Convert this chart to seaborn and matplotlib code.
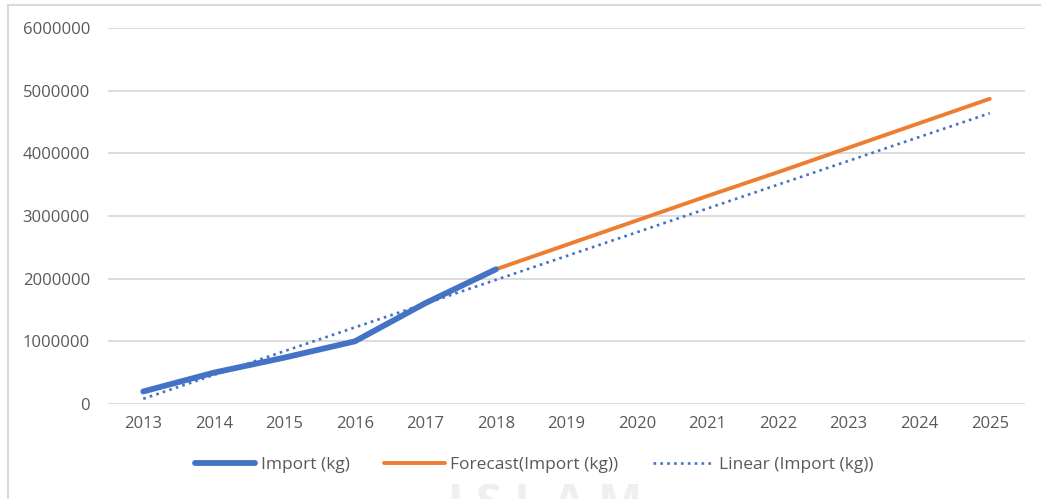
import matplotlib
matplotlib.use("Agg")
import matplotlib.pyplot as plt
import seaborn as sns
import pandas as pd
from matplotlib.patches import Rectangle

years = [2013, 2014, 2015, 2016, 2017, 2018, 2019, 2020, 2021, 2022, 2023, 2024, 2025]
import_years = [2013, 2014, 2015, 2016, 2017, 2018]
import_kg = [200000, 500000, 740000, 1000000, 1610000, 2150000]
forecast_years = [2018, 2019, 2020, 2021, 2022, 2023, 2024, 2025]
forecast_kg = [2150000, 2540000, 2930000, 3320000, 3700000, 4090000, 4480000, 4870000]
linear_years = [2013, 2025]
linear_kg = [83000, 4640000]
y_ticks = [0, 1000000, 2000000, 3000000, 4000000, 5000000, 6000000]

sns.set_theme(style="white")
plt.rcParams['font.family'] = ['Open Sans', 'DejaVu Sans']

fig = plt.figure(figsize=(10.41, 4.99), dpi=100)
ax = fig.add_axes([108/1041, 1 - 404/499, (1025-108)/1041, (404-28)/499])

df_imp = pd.DataFrame({"year": import_years, "kg": import_kg})
df_fc = pd.DataFrame({"year": forecast_years, "kg": forecast_kg})
df_lin = pd.DataFrame({"year": linear_years, "kg": linear_kg})

sns.lineplot(data=df_fc, x="year", y="kg", ax=ax, color="#ED7D31", linewidth=2.8,
             label="Forecast(Import (kg))", zorder=3, solid_capstyle="round")
sns.lineplot(data=df_imp, x="year", y="kg", ax=ax, color="#4472C4", linewidth=4.2,
             label="Import (kg)", zorder=4, solid_capstyle="round")
sns.lineplot(data=df_lin, x="year", y="kg", ax=ax, color="#4472C4", linewidth=1.9,
             linestyle=(0, (1, 1.6)), label="Linear (Import (kg))", zorder=5)

ax.set_xlim(2012.5, 2025.5)
ax.set_ylim(0, 6000000)
ax.set_yticks(y_ticks)
ax.set_yticklabels([str(v) for v in y_ticks])
ax.set_xticks(years)
ax.set_xticklabels([str(y) for y in years])
ax.set_xlabel("")
ax.set_ylabel("")
for s in ax.spines.values():
    s.set_visible(False)
ax.grid(axis="y", color="#D9D9D9", linewidth=1.3)
ax.grid(axis="x", visible=False)
ax.set_axisbelow(True)
ax.tick_params(axis="both", length=0, labelsize=12, labelcolor="#595959")
ax.tick_params(axis="y", pad=13)
ax.tick_params(axis="x", pad=9)

handles, labels = ax.get_legend_handles_labels()
order = [labels.index("Import (kg)"), labels.index("Forecast(Import (kg))"), labels.index("Linear (Import (kg))")]
leg = ax.legend([handles[i] for i in order], [labels[i] for i in order],
                loc="center", bbox_to_anchor=(534/1041, 1 - 465/499), bbox_transform=fig.transFigure,
                ncol=3, frameon=False, fontsize=12.5, handlelength=3.5, handletextpad=0.3,
                columnspacing=2.0, labelcolor="#595959")

# outer chart border
fig.add_artist(Rectangle((8/1041, -0.01), 1.05, 1 - 5/499 + 0.01, transform=fig.transFigure,
                         fill=False, edgecolor="#D9D9D9", linewidth=1.5))

# faint watermark
fig.text(545/1041, 1 - 481/499, "I S L A M", ha="center", va="top", fontsize=34,
         color="#EFEFEF", fontweight="bold", zorder=0)

fig.savefig("out.png", dpi=100, facecolor="white")
